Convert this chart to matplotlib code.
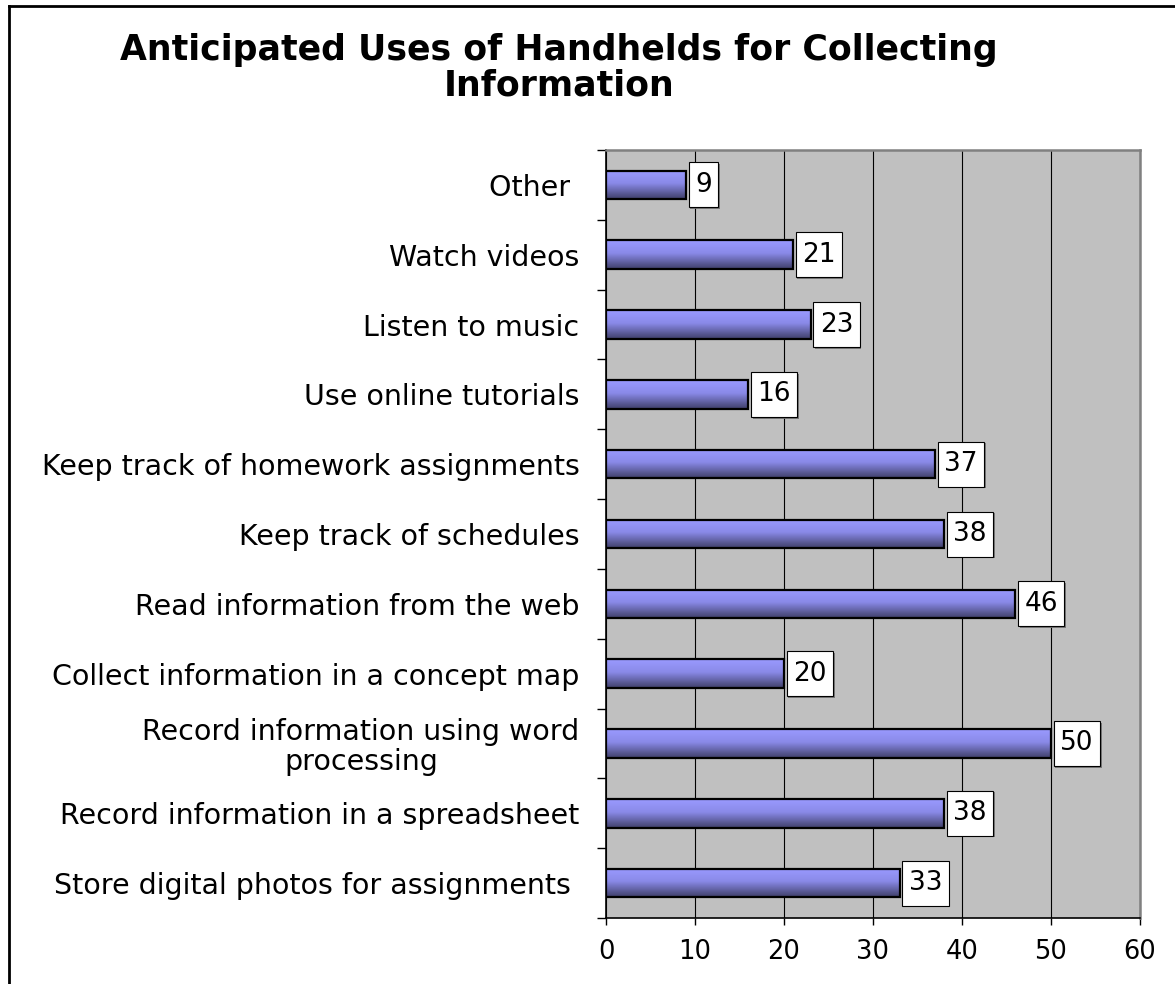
import matplotlib
matplotlib.use("Agg")
import matplotlib.pyplot as plt
import numpy as np
from matplotlib.colors import LinearSegmentedColormap
from matplotlib.lines import Line2D
from matplotlib.path import Path
import matplotlib.patheffects as pe

# ---- data (top to bottom) ----
categories = [
    "Other ",
    "Watch videos",
    "Listen to music",
    "Use online tutorials",
    "Keep track of homework assignments",
    "Keep track of schedules",
    "Read information from the web",
    "Collect information in a concept map",
    "Record information using word\nprocessing",
    "Record information in a spreadsheet",
    "Store digital photos for assignments ",
]
values = [9, 21, 23, 16, 37, 38, 46, 20, 50, 38, 33]
xticks = [0, 10, 20, 30, 40, 50, 60]
title = "Anticipated Uses of Handhelds for Collecting\nInformation"

plt.rcParams['font.family'] = ['DejaVu Sans']

fig = plt.figure(figsize=(11.75, 9.84), dpi=100, facecolor='white')
W, H = 1175, 984
ax = fig.add_axes([606 / W, 1 - 918 / H, (1140 - 606) / W, (918 - 150) / H])
ax.set_facecolor('#C0C0C0')

ypos = np.arange(len(categories))
bar_h = 0.41

cmap = LinearSegmentedColormap.from_list(
    'grad', [(0.0, '#9A9AFF'), (0.45, '#8A8AE8'), (1.0, '#40406A')])
grad = np.linspace(0, 1, 64).reshape(-1, 1)

for y, v in zip(ypos, values):
    ax.imshow(grad, cmap=cmap, aspect='auto', origin='upper',
              extent=[0, v, y + bar_h / 2, y - bar_h / 2], zorder=2,
              interpolation='bilinear')

ax.barh(ypos, values, height=bar_h, facecolor='none', edgecolor='black',
        linewidth=1.6, zorder=3)


def label_box(x0, y0, width, height, mutation_size):
    px = 0.24 * mutation_size
    py = 0.36 * mutation_size
    verts = [(x0 - px, y0 - py), (x0 + width + px, y0 - py),
             (x0 + width + px, y0 + height + py), (x0 - px, y0 + height + py),
             (x0 - px, y0 - py)]
    return Path(verts, closed=True)


for y, v in zip(ypos, values):
    t = ax.annotate(str(v), xy=(v, y), xytext=(6.5, 0), textcoords='offset points',
                    ha='left', va='center', fontsize=19, color='black', zorder=5,
                    bbox=dict(boxstyle=label_box, facecolor='white',
                              edgecolor='black', linewidth=0.8))
    t.get_bbox_patch().set_path_effects([
        pe.SimplePatchShadow(offset=(1.2, -1.2), shadow_rgbFace='#707070', alpha=0.9),
        pe.Normal()])

ax.set_xlim(0, 60)
ax.set_ylim(len(categories) - 0.5, -0.5)

ax.set_xticks(xticks)
ax.set_xticklabels([str(x) for x in xticks], fontsize=18.5)
ax.tick_params(axis='x', direction='out', length=5, width=1, pad=10, colors='black')

ax.set_yticks(np.arange(-0.5, len(categories), 1.0))
ax.set_yticklabels([])
ax.tick_params(axis='y', which='major', direction='out', length=6.5, width=1)
ax.set_yticks(ypos, minor=True)
ax.set_yticklabels(categories, minor=True, fontsize=20.5, multialignment='center',
                   linespacing=1.05)
ax.tick_params(axis='y', which='minor', length=0, pad=19)

ax.xaxis.grid(True, color='black', linewidth=0.8, zorder=1)
ax.set_axisbelow(True)

ax.spines['left'].set_color('black')
ax.spines['left'].set_linewidth(1.2)
ax.spines['bottom'].set_color('black')
ax.spines['bottom'].set_linewidth(1.2)
ax.spines['top'].set_color('#808080')
ax.spines['top'].set_linewidth(1.8)
ax.spines['right'].set_color('#808080')
ax.spines['right'].set_linewidth(1.8)

fig.text(559 / W, 1 - 68 / H, title, ha='center', va='center', fontsize=25,
         fontweight='bold', linespacing=1.05)

# outer chart border (left and top visible)
fig.add_artist(Line2D([9 / W, 9 / W], [0, 1 - 6 / H], transform=fig.transFigure,
                      color='black', linewidth=2))
fig.add_artist(Line2D([9 / W, 1.0], [1 - 6 / H, 1 - 6 / H], transform=fig.transFigure,
                      color='black', linewidth=2))

fig.savefig('out.png', dpi=100, facecolor='white')
